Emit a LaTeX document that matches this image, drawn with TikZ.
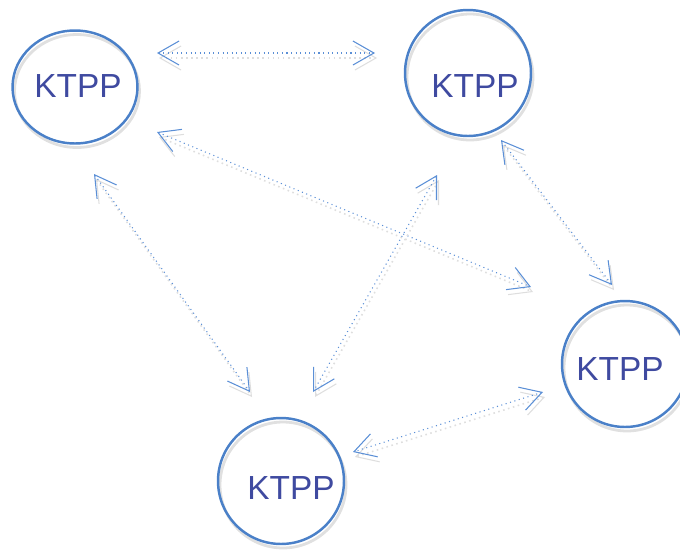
\documentclass[tikz,border=0pt]{standalone}
\usepackage{fontspec}
\setmainfont{Liberation Sans}
\usepackage{tikz}
\usetikzlibrary{arrows.meta, shapes.geometric}

\definecolor{ringblue}{RGB}{74,128,200}
\definecolor{textblue}{RGB}{63,74,160}
\definecolor{linkblue}{RGB}{91,143,214}

\tikzset{
  ktpp/.style={shape=circle, draw=ringblue, line width=1.4pt, minimum size=2.52cm, inner sep=0pt,
    preaction={draw=black!12, line width=1.6pt, transform canvas={shift={(.04cm,-.08cm)}}}},
  ktext/.style={text=textblue, font=\fontsize{19pt}{22pt}\selectfont, inner sep=0pt},
  link/.style={<->, draw=linkblue, line width=.6pt, dotted,
    >={Straight Barb[length=.42cm, width=.48cm, line width=.6pt]},
    preaction={draw=black!13, line width=.9pt, dotted, transform canvas={shift={(.04cm,-.1cm)}}}}
}

\begin{document}
\begin{tikzpicture}[x=.02cm, y=-.02cm]
			\useasboundingbox (0,0) rectangle (680,552);
			\node[ktpp, shape=ellipse, minimum width=2.5cm, minimum height=2.26cm] (A) at (75,87) {};
			\node[ktpp] (B) at (468,73) {};
			\node[ktpp] (C) at (625,364) {};
			\node[ktpp] (D) at (281,481) {};
			\node[ktext] (At) at (78,86) {KTPP};
			\node[ktext] (Bt) at (475,86) {KTPP};
			\node[ktext] (Ct) at (620,369) {KTPP};
			\node[ktext] (Dt) at (291,488) {KTPP};
			
			% arrow ends
			\coordinate (ab) at (157,53);  \coordinate (ba) at (375,53);
			\coordinate (ac) at (157,132); \coordinate (ca) at (531,287);
			\coordinate (ad) at (94,174);  \coordinate (da) at (250,392);
			\coordinate (bd) at (437,175); \coordinate (db) at (313,392);
			\coordinate (bc) at (501,140); \coordinate (cb) at (612,285);
			\coordinate (cd) at (543,392); \coordinate (dc) at (353,452);
			
			\draw [link] (ab) -- (ba);
			\draw [link] (ac) -- (ca);
			\draw [link] (ad) -- (da);
			\draw [link] (bd) -- (db);
			\draw [link] (bc) -- (cb);
			\draw [link] (cd) -- (dc);
			\end{tikzpicture}
\end{document}
